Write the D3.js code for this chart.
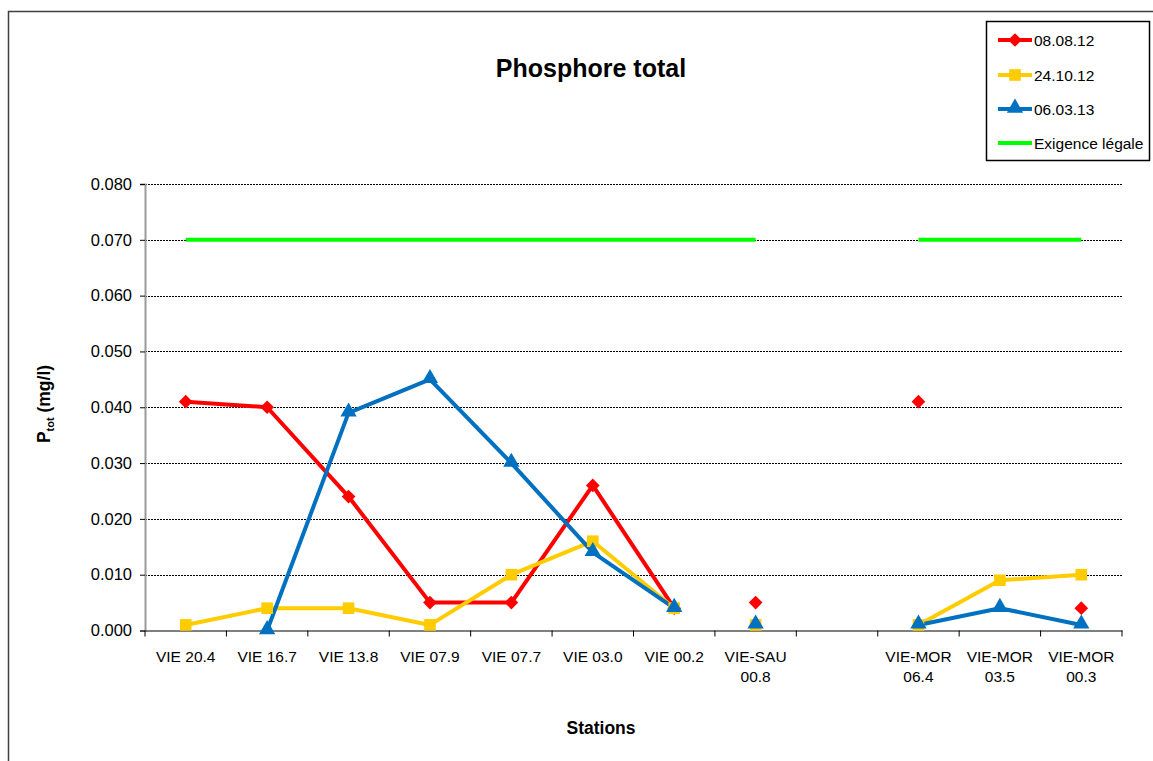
<!DOCTYPE html>
<html>
<head>
<meta charset="utf-8">
<script src="https://cdn.jsdelivr.net/npm/d3@7"></script>
<style>
  html, body { margin: 0; padding: 0; background: #fff; }
  text { font-family: "Liberation Sans", Arial, sans-serif; }
</style>
</head>
<body>
<svg id="chart" width="1153" height="761"></svg>
<script>
// ---- Data ----
const categories = ["VIE 20.4", "VIE 16.7", "VIE 13.8", "VIE 07.9", "VIE 07.7", "VIE 03.0", "VIE 00.2",
  "VIE-SAU\n00.8", "", "VIE-MOR\n06.4", "VIE-MOR\n03.5", "VIE-MOR\n00.3"];
const stationGroups = ["VIE", "VIE", "VIE", "VIE", "VIE", "VIE", "VIE", "SAU", "", "MOR", "MOR", "MOR"];
const seriesNames = ["08.08.12", "24.10.12", "06.03.13", "Exigence légale"];
const values080812 = [0.041, 0.040, 0.024, 0.005, 0.005, 0.026, 0.004, 0.005, null, 0.041, null, 0.004];
const values241012 = [0.001, 0.004, 0.004, 0.001, 0.010, 0.016, 0.004, 0.001, null, 0.001, 0.009, 0.010];
const values060313 = [null, 0.000, 0.039, 0.045, 0.030, 0.014, 0.004, 0.001, null, 0.001, 0.004, 0.001];
const valuesLegal = [0.070, 0.070, 0.070, 0.070, 0.070, 0.070, 0.070, 0.070, null, 0.070, 0.070, 0.070];
const yTicks = [0, 0.01, 0.02, 0.03, 0.04, 0.05, 0.06, 0.07, 0.08];

// ---- Styles ----
const seriesStyles = [
  { color: "#FF0000", marker: "diamond", size: 120, split: true },
  { color: "#FFCC00", marker: "square", size: 135, split: true },
  { color: "#0070C0", marker: "triangle", size: 115, split: true },
  { color: "#00FF00", marker: null, size: 0, split: false }
];
const seriesValues = [values080812, values241012, values060313, valuesLegal];

const svg = d3.select("#chart");
const W = 1153, H = 761;
const plot = { left: 145, right: 1122, top: 184, bottom: 630.5 };

// frame
svg.append("path").attr("d", `M8.5,${H} L8.5,11.5 L${W},11.5`)
  .attr("fill", "none").attr("stroke", "#404040").attr("stroke-width", 1.5);

const x = d3.scaleBand().domain(d3.range(categories.length)).range([plot.left, plot.right]).padding(0);
const y = d3.scaleLinear().domain([0, 0.08]).range([plot.bottom, plot.top]);

// gridlines
svg.append("g").selectAll("line").data(yTicks.filter(d => d > 0)).join("line")
  .attr("x1", plot.left).attr("x2", plot.right)
  .attr("y1", d => Math.round(y(d)) + 0.5).attr("y2", d => Math.round(y(d)) + 0.5)
  .attr("stroke", "#000").attr("stroke-width", 1).attr("stroke-dasharray", "2,1");

// y axis
const yAxis = d3.axisLeft(y).tickValues(yTicks).tickFormat(d3.format(".3f")).tickSize(5).tickPadding(8);
const yg = svg.append("g").attr("transform", `translate(${plot.left},0)`).call(yAxis);
yg.select(".domain").attr("stroke", "#9a9a9a").attr("stroke-width", 2);
yg.selectAll(".tick line").attr("stroke", "#000");
yg.selectAll(".tick text").attr("font-size", 16.5).attr("fill", "#000")
  .attr("font-family", "'Liberation Sans', Arial, sans-serif");

// x axis
const xAxis = d3.axisBottom(x).tickSize(0).tickFormat(() => "");
const xg = svg.append("g").attr("transform", `translate(0,${plot.bottom})`).call(xAxis);
xg.select(".domain").attr("stroke", "#000").attr("stroke-width", 1.2);
xg.selectAll(".tick").remove();
const boundaries = d3.range(categories.length + 1).map(i => plot.left + i * x.bandwidth());
xg.selectAll("line.bt").data(boundaries).join("line").attr("class", "bt")
  .attr("x1", d => d).attr("x2", d => d).attr("y1", 0).attr("y2", 6)
  .attr("stroke", "#000").attr("stroke-width", 1);
const labelG = svg.append("g");
categories.forEach((c, i) => {
  const t = labelG.append("text").attr("x", x(i) + x.bandwidth() / 2).attr("y", 662)
    .attr("text-anchor", "middle").attr("font-size", 15.5).attr("fill", "#000");
  c.split("\n").forEach((line, k) => {
    t.append("tspan").attr("x", x(i) + x.bandwidth() / 2).attr("dy", k === 0 ? 0 : 20).text(line);
  });
});

// series lines
seriesValues.forEach((vals, si) => {
  const st = seriesStyles[si];
  const pts = vals.map((v, i) => ({ i, v, g: stationGroups[i] }));
  const segments = [];
  let cur = [];
  pts.forEach((p, k) => {
    const prev = pts[k - 1];
    const breakHere = p.v == null || (st.split && prev && prev.g !== p.g);
    if (breakHere && cur.length) { segments.push(cur); cur = []; }
    if (p.v != null) cur.push(p);
  });
  if (cur.length) segments.push(cur);
  const line = d3.line().x(d => x(d.i) + x.bandwidth() / 2).y(d => y(d.v));
  svg.append("g").selectAll("path").data(segments.filter(s => s.length > 1)).join("path")
    .attr("d", line).attr("fill", "none").attr("stroke", st.color)
    .attr("stroke-width", 4).attr("stroke-linejoin", "round");
});

// markers
const symMap = { diamond: d3.symbolDiamond2, square: d3.symbolSquare, triangle: d3.symbolTriangle };
seriesValues.forEach((vals, si) => {
  const st = seriesStyles[si];
  if (!st.marker) return;
  const sym = d3.symbol().type(symMap[st.marker]).size(st.size);
  svg.append("g").selectAll("path")
    .data(vals.map((v, i) => ({ v, i })).filter(d => d.v != null)).join("path")
    .attr("d", sym)
    .attr("transform", d => `translate(${x(d.i) + x.bandwidth() / 2},${y(d.v) + (st.marker === "triangle" ? -1 : 0)})`)
    .attr("fill", st.color);
});

// title
svg.append("text").attr("x", 591).attr("y", 77).attr("text-anchor", "middle")
  .attr("font-size", 25).attr("font-weight", "bold").text("Phosphore total");

// y axis title
const yt = svg.append("text").attr("transform", "translate(50,404) rotate(-90)")
  .attr("text-anchor", "middle").attr("font-size", 17.5).attr("font-weight", "bold");
yt.append("tspan").text("P");
yt.append("tspan").attr("font-size", 11).attr("dy", 4).text("tot");
yt.append("tspan").attr("dy", -4).text(" (mg/l)");

// x axis title
svg.append("text").attr("x", 601).attr("y", 734).attr("text-anchor", "middle")
  .attr("font-size", 17.5).attr("font-weight", "bold").text("Stations");

// legend
const lg = svg.append("g");
lg.append("rect").attr("x", 986.5).attr("y", 21.5).attr("width", 163).attr("height", 139)
  .attr("fill", "#fff").attr("stroke", "#000").attr("stroke-width", 1.5);
const legendY = [40, 75, 109, 143];
seriesNames.forEach((name, si) => {
  const st = seriesStyles[si];
  const yy = legendY[si];
  lg.append("line").attr("x1", 998).attr("x2", 1032).attr("y1", yy).attr("y2", yy)
    .attr("stroke", st.color).attr("stroke-width", 4);
  if (st.marker) {
    lg.append("path").attr("d", d3.symbol().type(symMap[st.marker]).size(st.size)())
      .attr("transform", `translate(1015,${yy + (st.marker === "triangle" ? -1 : 0)})`).attr("fill", st.color);
  }
  lg.append("text").attr("x", 1034).attr("y", yy + 6).attr("font-size", 15.5).text(name);
});
</script>
</body>
</html>
